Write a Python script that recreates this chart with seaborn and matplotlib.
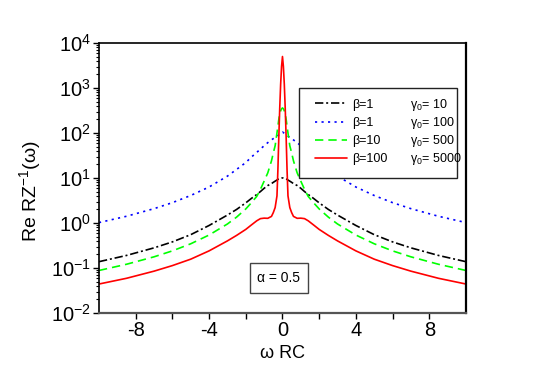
import matplotlib
matplotlib.use("Agg")
import matplotlib.pyplot as plt
import seaborn as sns
from matplotlib.patches import Rectangle
from matplotlib.ticker import FixedLocator, LogLocator, NullFormatter

# values (omega*RC vs Re RZ^-1)
omega = [-10.0, -8.5, -7.0, -6.0, -5.0, -4.0, -3.0, -2.5, -2.0, -1.7, -1.4, -1.2,
         -1.0, -0.8, -0.6, -0.5, -0.4, -0.3, -0.25, -0.2, -0.15, -0.1, -0.05,
         0.0,
         0.05, 0.1, 0.15, 0.2, 0.25, 0.3, 0.4, 0.5, 0.6, 0.8, 1.0, 1.2,
         1.4, 1.7, 2.0, 2.5, 3.0, 4.0, 5.0, 6.0, 7.0, 8.5, 10.0]

re_b1_g10 = [0.138, 0.19, 0.28, 0.38, 0.55, 0.88, 1.5, 2.0, 2.8, 3.5, 4.3, 5.0,
             5.9, 6.8, 7.5, 8.0, 8.5, 9.0, 9.3, 9.5, 9.7, 9.9, 10.0,
             10.0,
             10.0, 9.9, 9.7, 9.5, 9.3, 9.0, 8.5, 8.0, 7.5, 6.8, 5.9, 5.0,
             4.3, 3.5, 2.8, 2.0, 1.5, 0.88, 0.55, 0.38, 0.28, 0.19, 0.138]

re_b1_g100 = [1.02, 1.41, 2.08, 2.83, 4.08, 6.3, 11.0, 15.5, 22.0, 29.0, 37.0, 44.0,
              52.0, 61.0, 70.0, 75.0, 80.0, 85.0, 88.0, 91.0, 95.0, 98.0, 102.0,
              105.0,
              102.0, 98.0, 95.0, 91.0, 88.0, 85.0, 80.0, 75.0, 70.0, 61.0, 52.0, 44.0,
              37.0, 29.0, 22.0, 15.5, 11.0, 6.3, 4.08, 2.83, 2.08, 1.41, 1.02]

re_b10_g500 = [0.088, 0.121, 0.177, 0.24, 0.345, 0.54, 0.95, 1.35, 2.05, 2.8, 3.9, 5.6,
               8.5, 13.0, 24.0, 36.0, 52.0, 100.0, 140.0, 200.0, 270.0, 310.0, 345.0,
               360.0,
               345.0, 310.0, 270.0, 200.0, 140.0, 100.0, 52.0, 36.0, 24.0, 13.0, 8.5, 5.6,
               3.9, 2.8, 2.05, 1.35, 0.95, 0.54, 0.345, 0.24, 0.177, 0.121, 0.088]

re_b100_g5000 = [0.044, 0.059, 0.085, 0.113, 0.157, 0.24, 0.40, 0.53, 0.72, 0.9, 1.12, 1.25,
                 1.28, 1.27, 1.4, 1.7, 2.2, 4.0, 15.0, 80.0, 350.0, 1200.0, 3000.0,
                 5000.0,
                 3000.0, 1200.0, 350.0, 80.0, 15.0, 4.0, 2.2, 1.7, 1.4, 1.27, 1.28, 1.25,
                 1.12, 0.9, 0.72, 0.53, 0.40, 0.24, 0.157, 0.113, 0.085, 0.059, 0.044]

beta_labels = ["β=1", "β=1", "β=10", "β=100"]
gamma_labels = ["γ$_0$= 10", "γ$_0$= 100", "γ$_0$= 500", "γ$_0$= 5000"]
ytick_vals = [1e-2, 1e-1, 1e0, 1e1, 1e2, 1e3, 1e4]
ytick_labels = ["$10^{-2}$", "$10^{-1}$", "$10^{0}$", "$10^{1}$", "$10^{2}$", "$10^{3}$", "$10^{4}$"]
xtick_major = [-8, -4, 0, 4, 8]
xtick_minor = [-6, -2, 2, 6]

sns.set_style("ticks")
plt.rcParams['font.family'] = ['Liberation Sans', 'DejaVu Sans']
plt.rcParams['mathtext.fontset'] = 'custom'
plt.rcParams['mathtext.rm'] = 'Liberation Sans'
plt.rcParams['mathtext.it'] = 'Liberation Sans:italic'
plt.rcParams['mathtext.default'] = 'regular'
plt.rcParams['axes.unicode_minus'] = False
plt.rcParams['text.color'] = 'black'
plt.rcParams['axes.labelcolor'] = 'black'

fig = plt.figure(figsize=(5.4, 3.73), dpi=100)
ax = fig.add_axes([0.1833, 0.1609, 0.6796, 0.7239])

series = [
    (re_b1_g10, 'black', (0, (5, 1.7, 1.2, 1.7))),
    (re_b1_g100, '#0000ff', (0, (1.3, 2.6))),
    (re_b10_g500, '#00ff00', (0, (5, 3))),
    (re_b100_g5000, '#ff0000', '-'),
]
for vals, col, ls in series:
    sns.lineplot(x=omega, y=vals, ax=ax, color=col, linestyle=ls,
                 linewidth=1.2, estimator=None, sort=False)

ax.set_yscale('log')
ax.set_xlim(-10, 10)
ax.set_ylim(1e-2, 1e4)

ax.yaxis.set_major_locator(FixedLocator(ytick_vals))
ax.set_yticklabels(ytick_labels)
ax.yaxis.set_minor_locator(LogLocator(base=10, subs=range(2, 10), numticks=20))
ax.yaxis.set_minor_formatter(NullFormatter())
ax.set_xticks(xtick_major)
ax.set_xticklabels([str(v) for v in xtick_major])
ax.set_xticks(xtick_minor, minor=True)

ax.tick_params(axis='both', which='major', direction='out', length=4, width=1,
               labelsize=14.5, pad=2, colors='black')
ax.tick_params(axis='both', which='minor', direction='out', length=2.5, width=0.8,
               colors='black')
ax.tick_params(axis='x', which='minor', length=4, width=1)

for side in ['top', 'left', 'right']:
    ax.spines[side].set_color('black')
    ax.spines[side].set_linewidth(1.2)
ax.spines['right'].set_linewidth(1.6)
ax.spines['bottom'].set_color('#555555')
ax.spines['bottom'].set_linewidth(1.6)

ax.set_ylabel("Re RZ$^{-1}$(ω)", fontsize=14, color='black')
ax.yaxis.set_label_coords(-0.153, 0.45)
ax.set_xlabel("ω RC", fontsize=13, color='black')
ax.xaxis.set_label_coords(0.5, -0.12)

# legend box
box = Rectangle((0.545, 0.5), 0.43, 0.333, transform=ax.transAxes,
                facecolor='white', edgecolor='#222222', linewidth=1.0, zorder=5)
ax.add_patch(box)
leg = ax.legend(ax.lines[:4], beta_labels, loc='upper left',
                bbox_to_anchor=(0.589, 0.793), frameon=False, fontsize=9,
                handlelength=2.56, handletextpad=0.4, labelspacing=0.49,
                borderpad=0, borderaxespad=0)
leg.set_zorder(6)
for t in leg.get_texts():
    t.set_color('black')

fig.canvas.draw()
inv = ax.transAxes.inverted()
for t, g in zip(leg.get_texts(), gamma_labels):
    bb = t.get_window_extent()
    yc = inv.transform((0, (bb.y0 + bb.y1) / 2))[1]
    ax.text(0.847, yc, g, transform=ax.transAxes, fontsize=9, color='black',
            ha='left', va='center', zorder=7)

ax.text(0.49, 0.13, "α = 0.5", transform=ax.transAxes, fontsize=10, color='black',
        ha='center', va='center', zorder=7,
        bbox=dict(boxstyle='square,pad=0.55', facecolor='white',
                  edgecolor='#444444', linewidth=1.0))

fig.savefig('out.png', dpi=100)
